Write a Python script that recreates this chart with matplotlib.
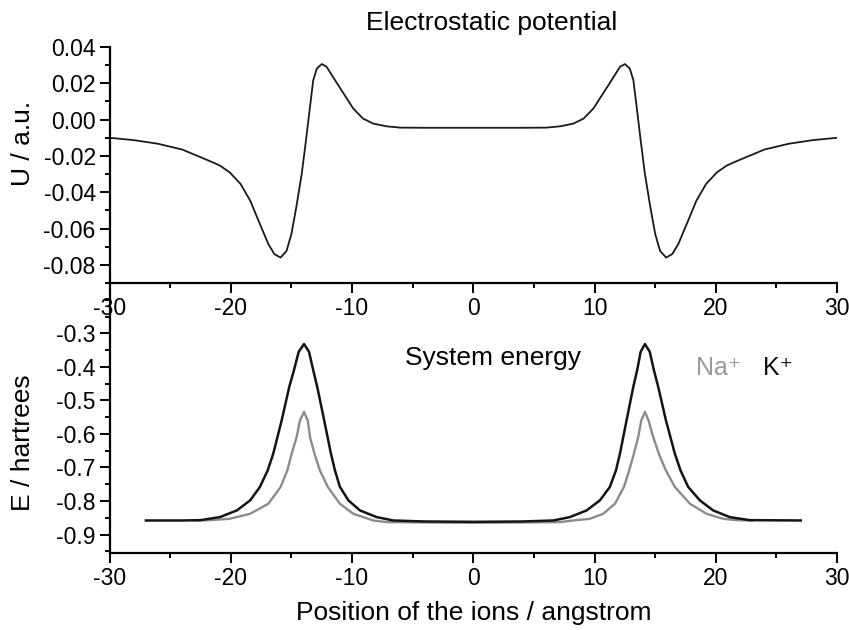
import matplotlib
matplotlib.use("Agg")
import matplotlib.pyplot as plt
from matplotlib.ticker import MultipleLocator

plt.rcParams["font.family"] = ["Liberation Sans", "DejaVu Sans"]
plt.rcParams["axes.unicode_minus"] = False

# electrostatic potential along the channel axis
pos_u = [-30, -28, -26, -24, -22.6, -21.5, -20.9, -20.1, -19.2, -18.4, -17.6,
         -16.9, -16.4, -15.9, -15.4, -15.0, -14.6, -14.15, -13.8, -13.47,
         -13.2, -12.9, -12.5, -12.1, -11.4, -10.7, -9.9, -9.1, -8.25, -7.15,
         -6.05, -4, -2, 0,
         2, 4, 6.05, 7.15, 8.25, 9.1, 9.9, 10.7, 11.4, 12.1, 12.5, 12.9, 13.2,
         13.47, 13.8, 14.15, 14.6, 15.0, 15.4, 15.9, 16.4, 16.9, 17.6, 18.4,
         19.2, 20.1, 20.9, 21.5, 22.6, 24, 26, 28, 30]
u_vals = [-0.0100, -0.0113, -0.0133, -0.0165, -0.0204, -0.0235, -0.0253,
          -0.0290, -0.0354, -0.0446, -0.0575, -0.0686, -0.0741, -0.0760,
          -0.0723, -0.0630, -0.0483, -0.0299, -0.0114, 0.0070, 0.0217, 0.0282,
          0.0306, 0.0291, 0.0217, 0.0144, 0.0061, 0.0006, -0.0022, -0.0037,
          -0.0044, -0.0045, -0.0045, -0.0045,
          -0.0045, -0.0045, -0.0044, -0.0037, -0.0022, 0.0006, 0.0061, 0.0144,
          0.0217, 0.0291, 0.0306, 0.0282, 0.0217, 0.0070, -0.0114, -0.0299,
          -0.0483, -0.0630, -0.0723, -0.0760, -0.0741, -0.0686, -0.0575,
          -0.0446, -0.0354, -0.0290, -0.0253, -0.0235, -0.0204, -0.0165,
          -0.0133, -0.0113, -0.0100]

# system energy, K+
pos_k = [-27.0, -24.0, -22.5, -20.9, -19.5, -18.4, -17.6, -16.96, -16.5, -15.8,
         -15.18, -14.79, -14.4, -13.96, -13.55, -13.2, -12.87, -12.3, -11.74,
         -11.41, -11.0, -10.3, -9.35, -7.97, -6.6, -4.0, 0.0, 4.0, 6.6, 7.96,
         9.34, 10.44, 11.26, 11.76, 12.09, 12.64, 13.19, 13.51, 13.8, 14.15,
         14.55, 14.89, 15.25, 15.88, 16.62, 17.09, 17.72, 18.68, 19.78, 21.15,
         22.8, 27.0]
e_k = [-0.858, -0.858, -0.857, -0.848, -0.828, -0.798, -0.758, -0.709, -0.659,
       -0.559, -0.460, -0.410, -0.355, -0.332, -0.355, -0.410, -0.460, -0.559,
       -0.659, -0.709, -0.758, -0.798, -0.828, -0.848, -0.858, -0.861, -0.862,
       -0.861, -0.858, -0.848, -0.828, -0.798, -0.758, -0.709, -0.659, -0.559,
       -0.460, -0.410, -0.355, -0.332, -0.355, -0.410, -0.460, -0.559, -0.659,
       -0.709, -0.758, -0.798, -0.828, -0.848, -0.857, -0.858]

# system energy, Na+
pos_na = [-23.0, -21.7, -20.1, -18.4, -16.9, -15.89, -15.34, -14.98, -14.57,
          -14.3, -13.96, -13.65, -13.47, -13.1, -12.65, -12.0, -11.0, -9.9,
          -8.25, -7.1, 0.0, 7.1, 8.24, 9.61, 10.71, 11.68, 12.42, 12.85, 13.24,
          13.6, 13.85, 14.15, 14.45, 14.83, 15.3, 15.88, 16.62, 17.86, 19.23,
          20.6, 21.7, 23.0]
e_na = [-0.858, -0.857, -0.853, -0.838, -0.808, -0.758, -0.709, -0.659,
        -0.609, -0.560, -0.534, -0.560, -0.609, -0.659, -0.709, -0.758,
        -0.808, -0.838, -0.858, -0.863, -0.865, -0.863, -0.858, -0.853,
        -0.838, -0.808, -0.758, -0.709, -0.659, -0.609, -0.560, -0.534,
        -0.560, -0.609, -0.659, -0.709, -0.758, -0.808, -0.838, -0.853,
        -0.857, -0.858]

x_ticks = [-30, -20, -10, 0, 10, 20, 30]
x_labels = ["-30", "-20", "-10", "0", "10", "20", "30"]
u_ticks = [0.04, 0.02, 0.00, -0.02, -0.04, -0.06, -0.08]
u_labels = ["0.04", "0.02", "0.00", "-0.02", "-0.04", "-0.06", "-0.08"]
e_ticks = [-0.3, -0.4, -0.5, -0.6, -0.7, -0.8, -0.9]
e_labels = ["-0.3", "-0.4", "-0.5", "-0.6", "-0.7", "-0.8", "-0.9"]

TICK_FS = 16.5
LABEL_FS = 19


def style_axes(ax):
    for side in ("top", "right"):
        ax.spines[side].set_visible(False)
    for side in ("left", "bottom"):
        ax.spines[side].set_linewidth(1.6)
    ax.tick_params(which="major", direction="out", length=7, width=1.4,
                   labelsize=TICK_FS, pad=3)
    ax.tick_params(which="minor", direction="out", length=3.8, width=1.4)
    ax.xaxis.set_minor_locator(MultipleLocator(5))
    ax.set_xlim(-30, 30)
    ax.set_xticks(x_ticks, x_labels)


fig = plt.figure(figsize=(8.49, 6.30), dpi=100)
ax1 = fig.add_axes([0.129, 0.5508, 0.857, 0.3746])
ax2 = fig.add_axes([0.129, 0.1222, 0.857, 0.4286])
ax2.patch.set_visible(False)

ax1.plot(pos_u, u_vals, color="#1a1a1a", lw=1.3)
style_axes(ax1)
ax1.set_ylim(-0.09, 0.04)
ax1.set_yticks(u_ticks, u_labels)
ax1.yaxis.set_minor_locator(MultipleLocator(0.01))

ax2.plot(pos_na, e_na, color="#8c8c8c", lw=1.7)
ax2.plot(pos_k, e_k, color="#141414", lw=1.8)
style_axes(ax2)
ax2.set_ylim(-0.955, -0.15)
ax2.set_yticks(e_ticks, e_labels)
ax2.yaxis.set_minor_locator(MultipleLocator(0.05))

ax2.text(-5.6, -0.374, "System energy", fontsize=LABEL_FS, va="center",
         ha="left")
ax2.text(18.4, -0.404, "Na\u207a", fontsize=18, color="#9a9a9a",
         va="center", ha="left")
ax2.text(23.9, -0.404, "K\u207a", fontsize=18, color="#111111",
         va="center", ha="left")

fig.text(0.5795, 0.963, "Electrostatic potential", fontsize=LABEL_FS,
         ha="center", va="center")
fig.text(0.027, 1 - 143 / 630, "U / a.u.", fontsize=LABEL_FS, rotation=90,
         ha="center", va="center")
fig.text(0.027, 1 - 443 / 630, "E / hartrees", fontsize=LABEL_FS, rotation=90,
         ha="center", va="center")
fig.text(473.5 / 849, 1 - 613 / 630, "Position of the ions / angstrom",
         fontsize=LABEL_FS, ha="center", va="center")

fig.savefig("out.png", dpi=100)
